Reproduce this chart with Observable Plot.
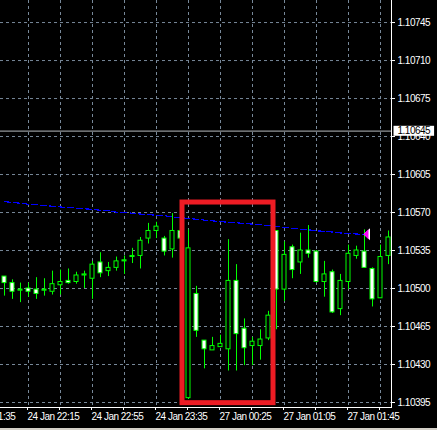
<!DOCTYPE html>
<html><head><meta charset="utf-8">
<script src="https://cdn.jsdelivr.net/npm/d3@7"></script>
<script src="https://cdn.jsdelivr.net/npm/@observablehq/plot@0.6"></script>
<style>
html,body{margin:0;padding:0;background:#000;}
#chart{width:437px;height:428px;border-bottom:2px solid #d4d0c8;overflow:hidden;}
#chart svg{display:block;}
</style></head><body><div id="chart"></div>
<script>
// ---- data (EURUSD M5 candles) ----
const open = [1.10511,1.10505,1.10498,1.10500,1.10499,1.10498,1.10497,1.10503,1.10507,1.10506,1.10512,1.10509,1.10524,1.10516,1.10519,1.10525,1.10529,1.10530,1.10546,1.10553,1.10546,1.10536,1.10553,1.10399,1.10495,1.10452,1.10443,1.10446,1.10444,1.10507,1.10463,1.10447,1.10447,1.10454,1.10553,1.10499,1.10538,1.10524,1.10535,1.10534,1.10506,1.10515,1.10481,1.10506,1.10530,1.10534,1.10518,1.10491,1.10530];
const high = [1.10511,1.10508,1.10505,1.10505,1.10510,1.10509,1.10516,1.10517,1.10518,1.10515,1.10516,1.10525,1.10533,1.10524,1.10529,1.10530,1.10537,1.10547,1.10560,1.10561,1.10548,1.10569,1.10555,1.10554,1.10502,1.10452,1.10455,1.10457,1.10545,1.10522,1.10472,1.10455,1.10462,1.10479,1.10553,1.10543,1.10540,1.10551,1.10558,1.10535,1.10525,1.10517,1.10513,1.10540,1.10539,1.10554,1.10519,1.10540,1.10553];
const low = [1.10493,1.10490,1.10487,1.10492,1.10490,1.10493,1.10494,1.10494,1.10504,1.10504,1.10500,1.10490,1.10510,1.10511,1.10516,1.10513,1.10523,1.10518,1.10541,1.10546,1.10530,1.10528,1.10542,1.10398,1.10455,1.10426,1.10443,1.10446,1.10424,1.10424,1.10429,1.10429,1.10434,1.10452,1.10462,1.10488,1.10509,1.10513,1.10528,1.10505,1.10492,1.10477,1.10475,1.10499,1.10527,1.10519,1.10483,1.10491,1.10522];
const close = [1.10505,1.10497,1.10499,1.10497,1.10495,1.10499,1.10504,1.10506,1.10505,1.10512,1.10513,1.10522,1.10514,1.10519,1.10525,1.10526,1.10530,1.10544,1.10553,1.10557,1.10534,1.10553,1.10546,1.10537,1.10461,1.10444,1.10447,1.10449,1.10507,1.10458,1.10445,1.10451,1.10453,1.10475,1.10499,1.10531,1.10517,1.10535,1.10532,1.10506,1.10513,1.10478,1.10507,1.10532,1.10535,1.10519,1.10490,1.10529,1.10547];
// moving average (blue dashed), bars 0..45
const maValues = [1.105801,1.105792,1.105786,1.105776,1.105772,1.105764,1.105758,1.105751,1.105746,1.105740,1.105735,1.105728,1.105721,1.105716,1.105703,1.105700,1.105693,1.105686,1.105681,1.105675,1.105670,1.105659,1.105652,1.105645,1.105638,1.105630,1.105623,1.105616,1.105610,1.105605,1.105600,1.105593,1.105587,1.105580,1.105573,1.105563,1.105553,1.105546,1.105540,1.105532,1.105526,1.105520,1.105512,1.105507,1.105502,1.105498];
// price axis ticks
const priceTicks = [1.10395,1.10430,1.10465,1.10500,1.10535,1.10570,1.10605,1.10640,1.10675,1.10710,1.10745];
const currentPrice = 1.10645;
// time axis: grid every 4 bars, labels every 8 bars
const timeGridBars = [3,7,11,15,19,23,27,31,35,39,43,47];
const timeLabelBars = [-5,3,11,19,27,35,43];
const timeLabels = ["24 Jan 21:35","24 Jan 22:15","24 Jan 22:55","24 Jan 23:35","27 Jan 00:25","27 Jan 01:05","27 Jan 01:45"];
// annotations
const highlightBox = [{x1:22.25, x2:33.625, y1:1.103944, y2:1.105792}];
const arrowMark = [{bar:45, price:1.10550}];

// ---- build ----
const candles = open.map((o,i)=>({i, o, h:high[i], l:low[i], c:close[i]}));
const ma = maValues.map((v,i)=>({i, v}));
const labelMap = new Map(timeLabelBars.map((b,j)=>[b, timeLabels[j]]));
const fmt = d3.format(".5f");

const triWhite = {draw(ctx){ctx.moveTo(-2.5,0);ctx.lineTo(4,-6);ctx.lineTo(4,6);ctx.closePath();}};
const triMag = {draw(ctx){ctx.moveTo(-2.5,0);ctx.lineTo(2.5,-5);ctx.lineTo(2.5,5);ctx.closePath();}};

const gridStyle = {stroke:"#778899", strokeOpacity:1, strokeDasharray:"3,3"};

const chart = Plot.plot({
  width:437, height:428,
  marginLeft:0, marginRight:46, marginTop:0, marginBottom:21,
  style:{background:"black", color:"white", fontFamily:"Liberation Sans, Arial, sans-serif", fontSize:"10px", letterSpacing:"-0.5px"},
  x:{domain:[-0.5, 48.375], axis:null},
  y:{domain:[1.103904, 1.107653], axis:null},
  marks:[
    Plot.gridY(priceTicks, gridStyle),
    Plot.gridX(timeGridBars, gridStyle),
    Plot.ruleY([currentPrice], {stroke:"#b8bcc0"}),
    Plot.line(ma, {x:"i", y:"v", stroke:"#0000ff", strokeWidth:1.2, strokeDasharray:"6,3", shapeRendering:"crispEdges"}),
    Plot.ruleX(candles, {x:"i", y1:"l", y2:"h", stroke:"#00ff00"}),
    Plot.rect(candles, {x1:d=>d.i-0.25, x2:d=>d.i+0.25, y1:"o", y2:"c",
      fill:d=>d.c>d.o?"black":"white", stroke:"#00ff00"}),
    Plot.rect(highlightBox, {x1:"x1", x2:"x2", y1:"y1", y2:"y2", fill:"none", stroke:"#ed1c24", strokeWidth:5}),
    Plot.dot(arrowMark, {x:"bar", y:"price", symbol:triWhite, fill:"white", stroke:"none", dx:1.5}),
    Plot.dot(arrowMark, {x:"bar", y:"price", symbol:triMag, fill:"#ff00ff", stroke:"none", dx:1.5}),
    Plot.frame({anchor:"bottom", stroke:"white"}),
    Plot.frame({anchor:"right", stroke:"white"}),
    Plot.axisY(priceTicks, {anchor:"right", tickSize:3, tickPadding:3, tickFormat:fmt, color:"white"}),
    Plot.axisX([...timeGridBars], {anchor:"bottom", tickSize:3, tickPadding:2, textAnchor:"start", dx:-1,
      tickFormat:k=>labelMap.get(k) ?? "", color:"white"}),
    Plot.text([timeLabelBars[0]], {x:d=>d, text:d=>labelMap.get(d), frameAnchor:"bottom", textAnchor:"start",
      lineAnchor:"top", dy:5, dx:-1, fill:"white"}),
    Plot.text([currentPrice], {y:d=>d, text:d=>fmt(d), frameAnchor:"right", textAnchor:"start", dx:6,
      fill:"black", className:"cur-label"})
  ]
});
document.getElementById("chart").appendChild(chart);

// white box behind the current price label
d3.select(chart).selectAll(".cur-label text").each(function(){
  const b = this.getBBox();
  const g = this.parentNode;
  const t = this.getAttribute("transform");
  const r = document.createElementNS("http://www.w3.org/2000/svg","rect");
  r.setAttribute("x", b.x-4); r.setAttribute("y", b.y+0.5);
  r.setAttribute("width", b.width+7); r.setAttribute("height", b.height-1);
  r.setAttribute("fill", "white");
  if (t) r.setAttribute("transform", t);
  g.insertBefore(r, this);
});
</script></body></html>
